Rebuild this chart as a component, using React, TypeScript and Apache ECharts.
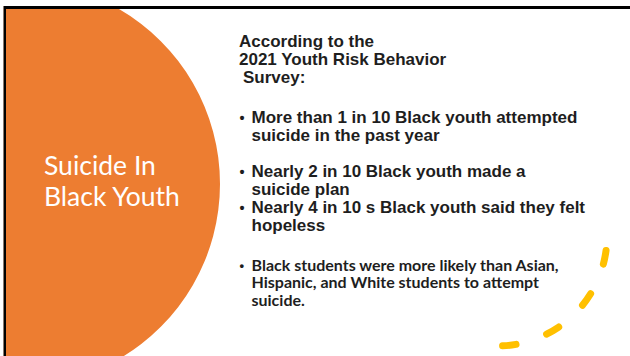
import React, { useEffect, useRef } from "react";
import * as echarts from "echarts";

const titleLines = ["Suicide In", "Black Youth"];
const headerLines = ["According to the", "2021 Youth Risk Behavior", "Survey:"];
const bulletsArial = [
  ["More than 1 in 10 Black youth attempted", "suicide in the past year"],
  ["Nearly 2 in 10 Black youth made a", "suicide plan"],
  ["Nearly 4 in 10 s Black youth said they felt", "hopeless"],
];
const bulletArialGapBefore = [0, 1, 0]; // blank lines before each bullet
const bulletsLato = [
  ["Black students were more likely than Asian,", "Hispanic, and White students to attempt", "suicide."],
];

const ORANGE = "#ED7D31";
const YELLOW = "#FFC000";
const TEXT = "#1E1E1E";

export default function App() {
  const ref = useRef<HTMLDivElement>(null);
  useEffect(() => {
    if (!ref.current) return;
    const chart = echarts.init(ref.current, undefined, { renderer: "svg" });
    const els: any[] = [];
    // background
    els.push({ type: "rect", shape: { x: 0, y: 0, width: 630, height: 356 }, style: { fill: "#fff" } });
    // orange circle
    els.push({ type: "circle", shape: { cx: 18, cy: 184, r: 202 }, style: { fill: ORANGE } });
    // white margins
    els.push({ type: "rect", shape: { x: 0, y: 0, width: 630, height: 6 }, style: { fill: "#fff" } });
    els.push({ type: "rect", shape: { x: 0, y: 0, width: 3, height: 356 }, style: { fill: "#fff" } });
    // borders
    els.push({ type: "rect", shape: { x: 4, y: 6, width: 626, height: 3 }, style: { fill: "#000" } });
    els.push({ type: "rect", shape: { x: 3, y: 6, width: 1, height: 350 }, style: { fill: "#8a7a70" } });
    els.push({ type: "rect", shape: { x: 4, y: 6, width: 2, height: 350 }, style: { fill: "#000" } });

    const addText = (text: string, x: number, baseline: number, size: number, family: string, weight: string, fill: string) => {
      els.push({
        type: "text",
        x,
        y: baseline - size * 0.34,
        style: {
          text,
          fontSize: size,
          fontFamily: family,
          fontWeight: weight,
          fill,
          textAlign: "left",
          textVerticalAlign: "middle",
        },
      });
    };

    // title
    titleLines.forEach((t, i) => addText(t, 44, 174 + i * 31.3, 26.5, "Lato", "normal", "#fff"));

    const ARIAL = '"Liberation Sans", Arial, sans-serif';
    const fsA = 17;
    const lh = 18;
    headerLines.forEach((t, i) => addText(t, i === 2 ? 243 : 239, 47.3 + i * lh, fsA, ARIAL, "bold", TEXT));

    let base = 123.3;
    bulletsArial.forEach((lines, bi) => {
      base += bulletArialGapBefore[bi] * lh;
      addText("•", 239.5, base, fsA * 0.85, ARIAL, "bold", TEXT);
      lines.forEach((t) => {
        addText(t, 251.5, base, fsA, ARIAL, "bold", TEXT);
        base += lh;
      });
    });

    let base2 = 269.5;
    bulletsLato.forEach((lines) => {
      addText("•", 239.5, base2, 13, ARIAL, "bold", TEXT);
      lines.forEach((t) => {
        addText(t, 251.5, base2, 16, "Lato", "bold", TEXT);
        base2 += 17.6;
      });
    });

    // yellow dashed arc
    els.push({
      type: "arc",
      shape: { cx: 497, cy: 236, r: 110, startAngle: 0.132, endAngle: 1.52, clockwise: true },
      style: { stroke: YELLOW, lineWidth: 7, lineCap: "round", lineDash: [14, 32.3], fill: "none" },
    });

    chart.setOption({ animation: false, graphic: { elements: els } });
    return () => chart.dispose();
  }, []);
  return <div ref={ref} style={{ position: "absolute", left: 0, top: 0, width: 630, height: 356 }} />;
}
